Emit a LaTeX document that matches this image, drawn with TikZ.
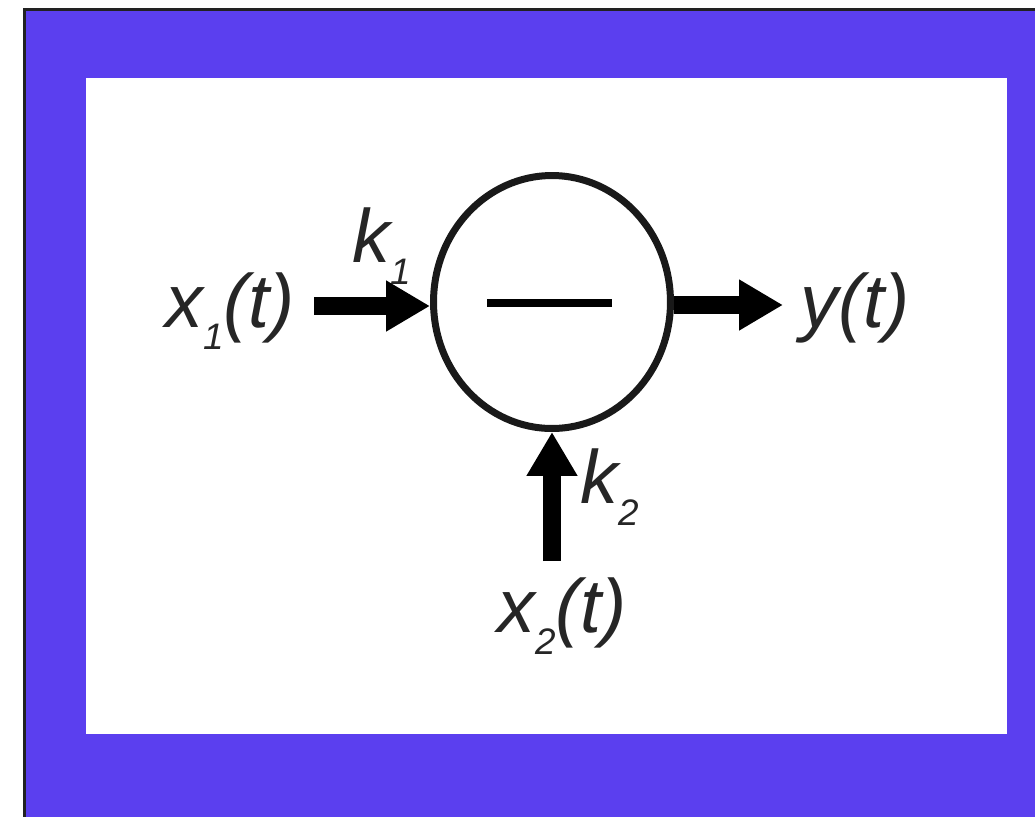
\documentclass[tikz,border=0pt]{standalone}
\usepackage{fontspec}
\setmainfont{Liberation Sans}
\usepackage{xcolor}
\usetikzlibrary{arrows.meta, shapes.geometric}
\definecolor{framefill}{HTML}{5B3FEF}
\definecolor{framedge}{HTML}{222222}
\newcommand{\lowidx}[1]{\raisebox{-.3em}{\fontsize{21pt}{21pt}\selectfont #1}}

\begin{document}
\begin{tikzpicture}[x=0.02cm, y=-0.02cm,
  panel/.style={draw=none, fill=white, inner sep=0pt, minimum width=18.42cm, minimum height=13.12cm},
  sumnode/.style={ellipse, draw=black!90, line width=0.14cm, fill=white, inner sep=0pt, minimum width=4.74cm, minimum height=5.06cm},
  siglabel/.style={anchor=base west, inner sep=0pt, text=black!85, font=\fontsize{43pt}{43pt}\selectfont\itshape},
  gainlabel/.style={siglabel},
  thickarrow/.style={-{Triangle[length=0.88cm,width=0.96cm]}, black, line width=0.36cm},
  minusbar/.style={black, line width=0.16cm}
]
  \useasboundingbox (0,0) rectangle (1035,816);
  \fill[framefill, draw=framedge, line width=0.07cm] (24.5,9.5) -- (1040,9.5) -- (1040,825) -- (24.5,825) -- cycle;
  \node[panel, anchor=north west] (inner) at (86,78) {};
  \node[sumnode] (sum) at (552,302) {};
  % Signals
  \node[siglabel] (xone) at (165,327) {x\lowidx{1}(t)};
  \node[siglabel] (yout) at (800,327) {y(t)};
  \node[siglabel] (xtwo) at (497,632) {x\lowidx{2}(t)};
  \node[gainlabel] (kone) at (352,262) {k\lowidx{1}};
  \node[gainlabel] (ktwo) at (580,503) {k\lowidx{2}};
  % Arrows
  \coordinate (xonestart) at (314,306);
  \coordinate (youtend) at (783,305);
  \coordinate (xtwostart) at (552,561);
  \coordinate (barleft) at (487,303);
  \coordinate (barright) at (612,303);
  \draw[thickarrow] (xonestart) -- (sum.west |- xonestart);
  \draw[thickarrow] (sum.east |- youtend) -- (youtend);
  \draw[thickarrow] (xtwostart) -- (sum.south);
  \draw[minusbar] (barleft) -- (barright);
\end{tikzpicture}
\end{document}
